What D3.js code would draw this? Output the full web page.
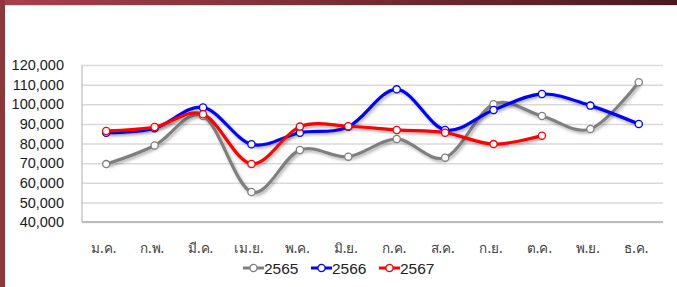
<!DOCTYPE html>
<html>
<head>
<meta charset="utf-8">
<script src="https://cdn.jsdelivr.net/npm/d3@7"></script>
<style>
  body { margin: 0; background: #fff; }
  svg { display: block; }
  .ylab text { font-family: "Liberation Sans", Arial, sans-serif; font-size: 14.5px; fill: #1a1a1a; }
  .xlab text { font-family: Tahoma, "Noto Sans", "DejaVu Sans", sans-serif; font-size: 13.5px; fill: #404040; }
  .legend text { font-family: "Liberation Sans", Arial, sans-serif; font-size: 15.5px; fill: #222; }
</style>
</head>
<body>
<div id="chart"></div>
<script>
const months = ["ม.ค.","ก.พ.","มี.ค.","เม.ย.","พ.ค.","มิ.ย.","ก.ค.","ส.ค.","ก.ย.","ต.ค.","พ.ย.","ธ.ค."]
const yTicks = [40000, 50000, 60000, 70000, 80000, 90000, 100000, 110000, 120000]

const y2565 = [69500, 79000, 94000, 55300, 76700, 73300, 82300, 72800, 100000, 94000, 87400, 111200]
const y2566 = [85500, 87800, 98400, 79600, 85500, 88500, 107600, 86900, 97100, 105200, 99300, 89900]
const y2567 = [86400, 88400, 94900, 69600, 88600, 88800, 86900, 85500, 79700, 84000]

const seriesNames = ["2565", "2566", "2567"]
const seriesColors = ["#7f7f7f", "#0000ff", "#ff0000"]

const W = 677, H = 287
const plot = {left: 82, right: 663, top: 65, bottom: 222}

const svg = d3.select("#chart").append("svg")
    .attr("width", W)
    .attr("height", H)

const defs = svg.append("defs")
const grad = defs.append("linearGradient").attr("id", "frame").attr("x1", 0).attr("x2", 1)
grad.append("stop").attr("offset", 0).attr("stop-color", "#a3424a")
grad.append("stop").attr("offset", 1).attr("stop-color", "#4a1a1e")
defs.append("filter").attr("id", "shadow")
    .attr("x", "-5%").attr("y", "-20%").attr("width", "110%").attr("height", "140%")
    .append("feDropShadow")
    .attr("dx", 1.5).attr("dy", 2)
    .attr("stdDeviation", 1.4)
    .attr("flood-color", "#000")
    .attr("flood-opacity", 0.3)

// dark red frame (top band + left band)
svg.append("rect").attr("x", 0).attr("y", 0).attr("width", W).attr("height", 5).attr("fill", "url(#frame)")
svg.append("rect").attr("x", 0).attr("y", 0).attr("width", 5).attr("height", H).attr("fill", "#8c383d")
svg.append("line").attr("x1", 5).attr("x2", W).attr("y1", 5.5).attr("y2", 5.5)
    .attr("stroke", "#e8d8d8").attr("stroke-width", 1)

const x = d3.scalePoint()
    .domain(months)
    .range([plot.left, plot.right])
    .padding(0.5)

const y = d3.scaleLinear()
    .domain([40000, 120000])
    .range([plot.bottom, plot.top])

// gridlines
svg.append("g")
    .attr("transform", `translate(${plot.left},0)`)
    .call(d3.axisLeft(y).tickValues(yTicks).tickSize(-(plot.right - plot.left)).tickFormat(""))
    .call(g => g.select(".domain").remove())
    .call(g => g.selectAll(".tick line").attr("stroke", "#d9d9d9").attr("stroke-width", 1.5))

// plot area left edge and bottom axis
svg.append("line")
    .attr("x1", plot.left).attr("x2", plot.left)
    .attr("y1", plot.top).attr("y2", plot.bottom)
    .attr("stroke", "#c8c8c8").attr("stroke-width", 1.5)
svg.append("line")
    .attr("x1", plot.left).attr("x2", plot.right)
    .attr("y1", plot.bottom).attr("y2", plot.bottom)
    .attr("stroke", "#bdbdbd").attr("stroke-width", 2)

// y labels
svg.append("g")
    .attr("class", "ylab")
    .attr("transform", `translate(${plot.left},0)`)
    .call(d3.axisLeft(y).tickValues(yTicks).tickSize(0).tickPadding(18).tickFormat(d3.format(",")))
    .call(g => g.select(".domain").remove())

// x labels
svg.append("g")
    .attr("class", "xlab")
    .attr("transform", `translate(0,${plot.bottom})`)
    .call(d3.axisBottom(x).tickSize(0).tickPadding(21))
    .call(g => g.select(".domain").remove())
    .call(g => g.selectAll("text").attr("dx", -3))

const series = [y2565, y2566, y2567]

const line = d3.line()
    .x((d, i) => x(months[i]))
    .y(d => y(d))
    .curve(d3.curveCatmullRom.alpha(0))

series.forEach((vals, s) => {
    const g = svg.append("g")
    g.append("path")
        .datum(vals)
        .attr("d", line)
        .attr("fill", "none")
        .attr("stroke", seriesColors[s])
        .attr("stroke-width", 3.2)
        .attr("stroke-linejoin", "round")
        .attr("filter", "url(#shadow)")
    g.selectAll("circle")
        .data(vals)
        .join("circle")
        .attr("cx", (d, i) => x(months[i]))
        .attr("cy", d => y(d))
        .attr("r", 3.6)
        .attr("fill", "#fff")
        .attr("stroke", seriesColors[s])
        .attr("stroke-width", 1.3)
})

// legend
const legendX = [243, 311, 379]
const legend = svg.append("g").attr("class", "legend")
seriesNames.forEach((name, s) => {
    const lg = legend.append("g").attr("transform", `translate(${legendX[s]},268)`)
    lg.append("line").attr("x1", 0).attr("x2", 21).attr("y1", 0).attr("y2", 0)
        .attr("stroke", seriesColors[s]).attr("stroke-width", 3)
    lg.append("circle").attr("cx", 10.5).attr("cy", 0).attr("r", 3.6)
        .attr("fill", "#fff").attr("stroke", seriesColors[s]).attr("stroke-width", 1.3)
    lg.append("text").attr("x", 21).attr("y", 0).attr("dy", "0.36em").text(name)
})
</script>
</body>
</html>
